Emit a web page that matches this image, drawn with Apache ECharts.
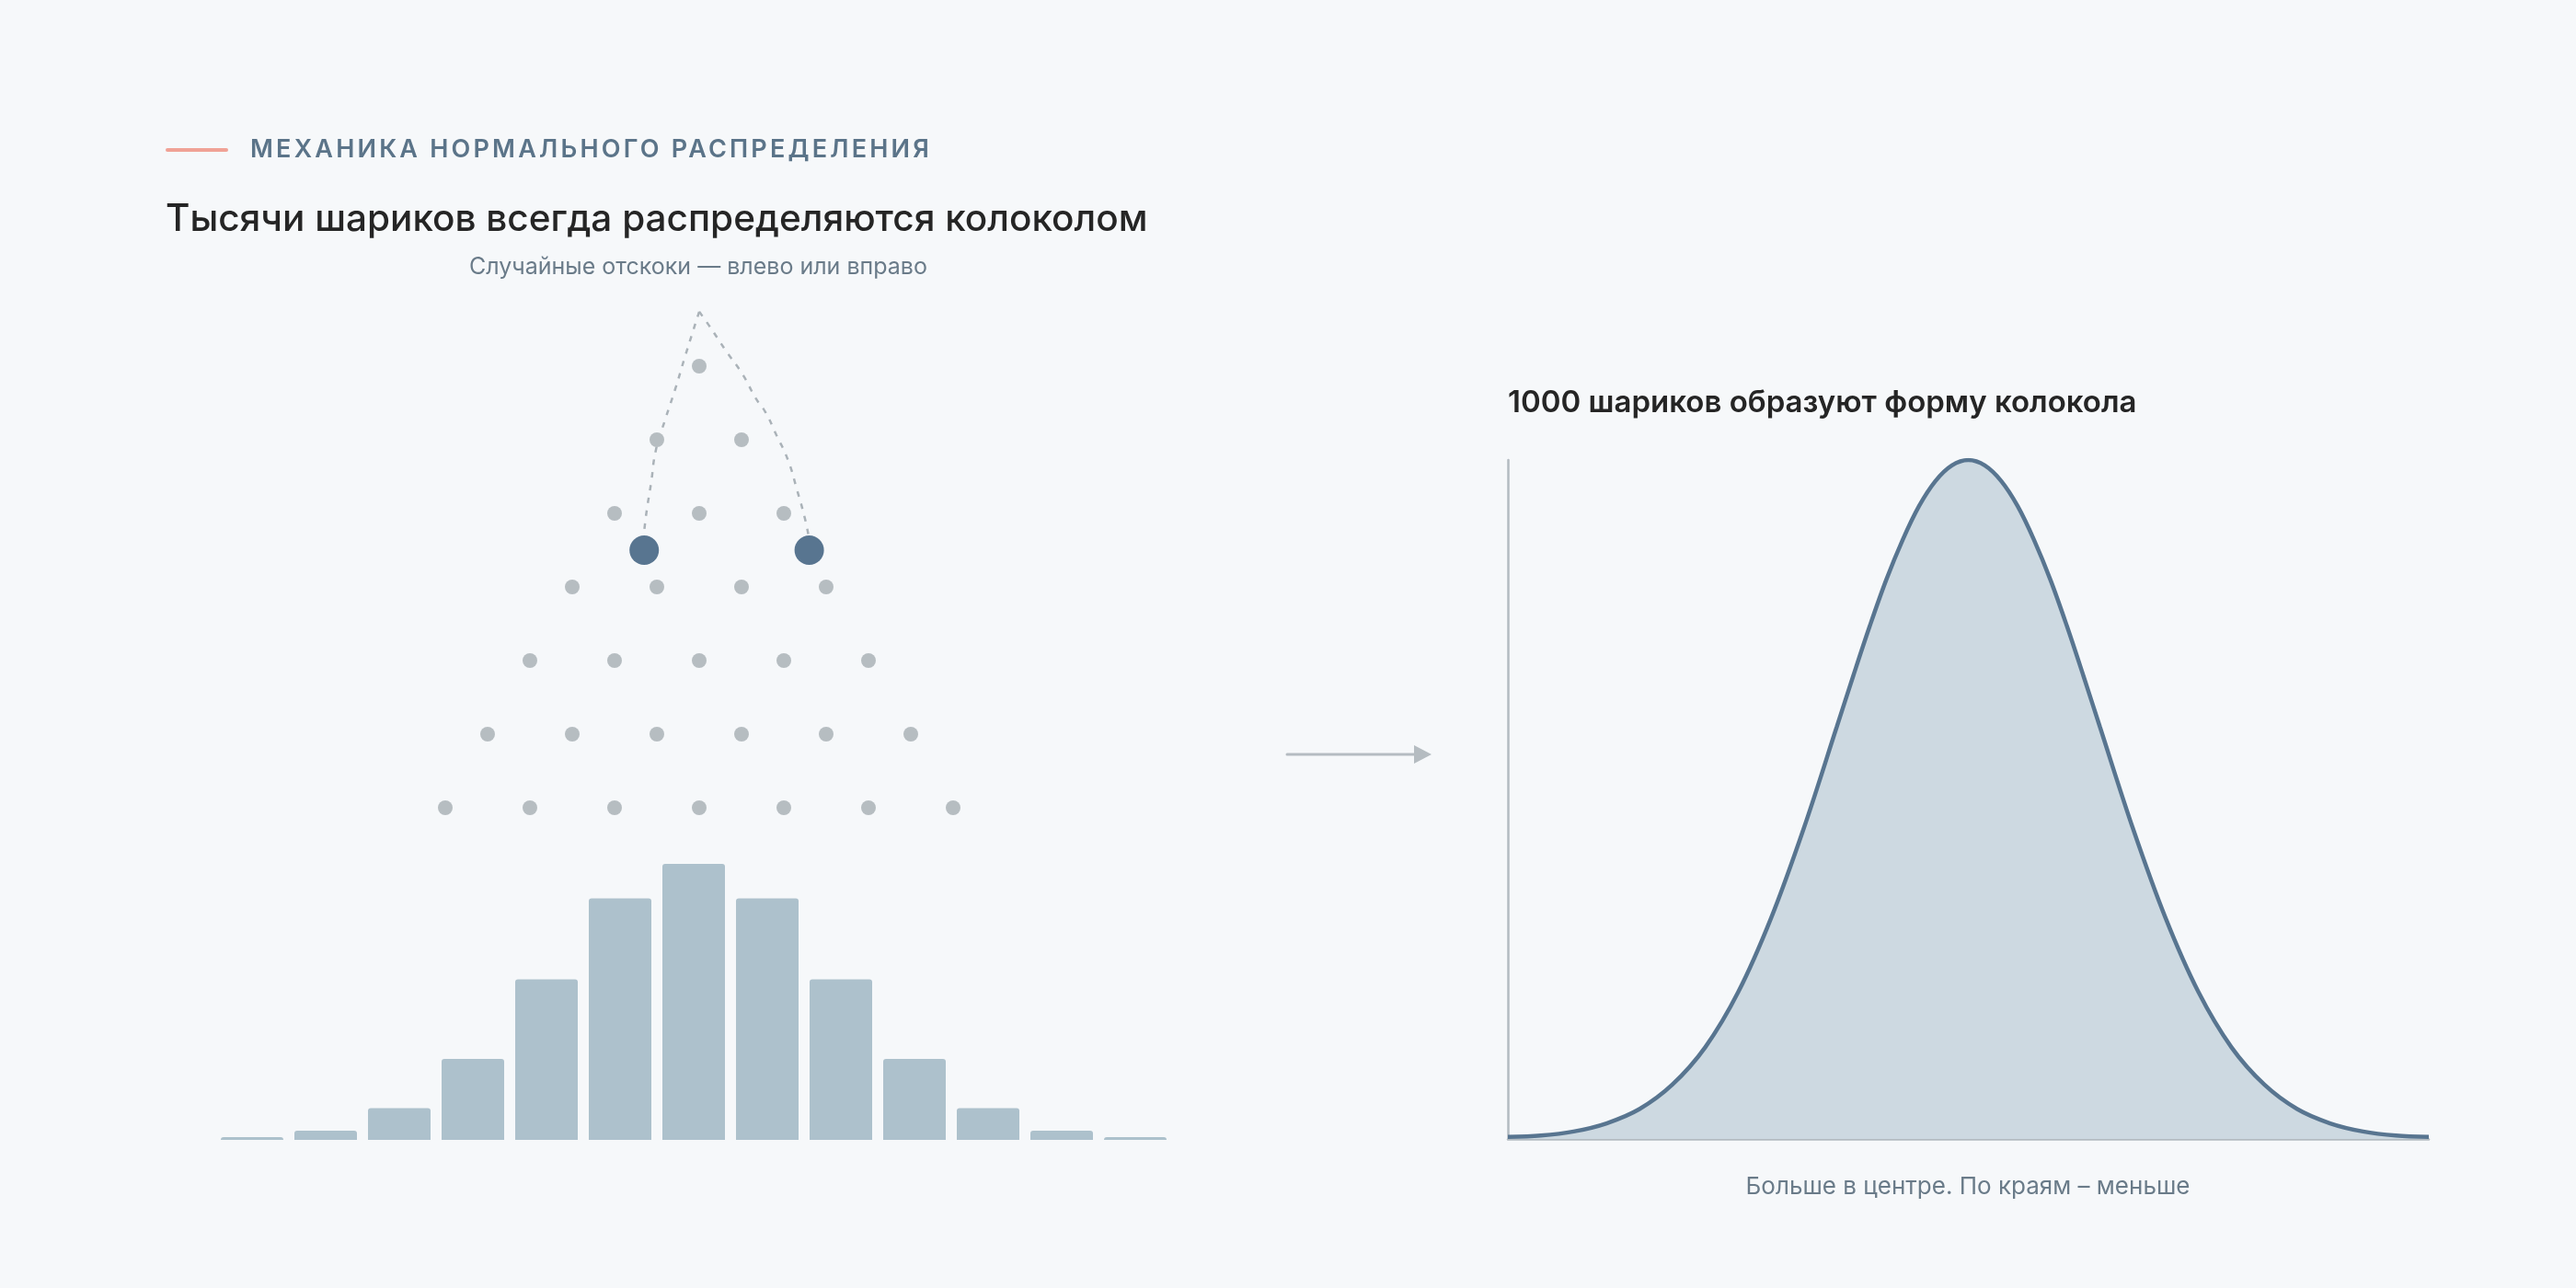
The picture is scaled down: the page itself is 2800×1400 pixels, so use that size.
<!DOCTYPE html>
<html>
<head>
<meta charset="utf-8">
<style>
html,body{margin:0;padding:0;background:#f6f8fa;}
#chart{width:2800px;height:1400px;}
</style>
<script src="https://cdn.jsdelivr.net/npm/echarts@6/dist/echarts.min.js"></script>
</head>
<body>
<div id="chart"></div>
<script>
// ---- text ----
const kickerText = 'МЕХАНИКА НОРМАЛЬНОГО РАСПРЕДЕЛЕНИЯ';
const titleText = 'Тысячи шариков всегда распределяются колоколом';
const subtitleText = 'Случайные отскоки — влево или вправо';
const rightTitleText = '1000 шариков образуют форму колокола';
const captionText = 'Больше в центре. По краям – меньше';

// ---- Galton board pegs (horizontal offset per row) ----
const pegRows = [
  [0],
  [-0.5, 0.5],
  [-1, 0, 1],
  [-1.5, -0.5, 0.5, 1.5],
  [-2, -1, 0, 1, 2],
  [-2.5, -1.5, -0.5, 0.5, 1.5, 2.5],
  [-3, -2, -1, 0, 1, 2, 3]
];
const balls = [[-0.65, 3.5], [1.3, 3.5]];
const leftPath = [[0, 0.26], [-0.17, 0.88], [-0.28, 1.30], [-0.40, 1.72], [-0.51, 2.13], [-0.57, 2.60], [-0.62, 2.96], [-0.65, 3.24]];
const rightPath = [[0, 0.26], [0.115, 0.445], [0.315, 0.79], [0.515, 1.116], [0.67, 1.44], [0.78, 1.62], [0.914, 1.94], [1.047, 2.27], [1.158, 2.69], [1.247, 3.06], [1.29, 3.29]];

// ---- histogram of bins ----
const binCategories = ['1','2','3','4','5','6','7','8','9','10','11','12','13'];
const binCounts = [1, 7, 24, 61, 121, 182, 208, 182, 121, 61, 24, 7, 1];

// ---- bell curve ----
const bellX = [-3.5,-3.25,-3,-2.75,-2.5,-2.25,-2,-1.75,-1.5,-1.25,-1,-0.875,-0.75,-0.625,-0.5,-0.375,-0.25,-0.125,0,
               0.125,0.25,0.375,0.5,0.625,0.75,0.875,1,1.25,1.5,1.75,2,2.25,2.5,2.75,3,3.25,3.5];
const bellY = [0.003,0.005,0.011,0.023,0.044,0.08,0.135,0.216,0.325,0.458,0.607,0.682,0.755,0.823,0.882,0.932,0.969,0.992,1.0,
               0.992,0.969,0.932,0.882,0.823,0.755,0.682,0.607,0.458,0.325,0.216,0.135,0.08,0.044,0.023,0.011,0.005,0.003];

const FONT = 'Inter, "Noto Sans", sans-serif';
const pegData = [];
pegRows.forEach((row, i) => row.forEach(x => pegData.push([x, i + 1])));
const bellData = bellX.map((x, i) => [x, bellY[i]]);

// letter spacing only for the small-caps kicker line (canvas native letterSpacing)
(function () {
  const proto = CanvasRenderingContext2D.prototype;
  const orig = proto.fillText;
  proto.fillText = function (t, x, y, w) {
    const spaced = (t === kickerText) && ('letterSpacing' in this);
    const f = this.font;
    if ('letterSpacing' in this) {
      this.letterSpacing = spaced ? '3.2px' : '0px';
      this.font = f;
    }
    const r = w === undefined ? orig.call(this, t, x, y) : orig.call(this, t, x, y, w);
    if (spaced) {
      this.letterSpacing = '0px';
      this.font = f;
    }
    return r;
  };
})();

const chart = echarts.init(document.getElementById('chart'), null, {renderer: 'canvas'});

chart.setOption({
  backgroundColor: '#f6f8fa',
  animation: false,
  grid: [
    {left: 392, top: 318, width: 736, height: 640},
    {left: 234, top: 939, width: 1040, height: 300},
    {left: 1639, top: 500, width: 1001, height: 738}
  ],
  xAxis: [
    {type: 'value', gridIndex: 0, min: -4, max: 4, show: false},
    {type: 'category', gridIndex: 1, data: binCategories, show: false},
    {type: 'value', gridIndex: 2, min: -3.5, max: 3.5,
      axisLine: {show: true, lineStyle: {color: '#b3bbc1', width: 2.5}},
      axisTick: {show: false}, axisLabel: {show: false}, splitLine: {show: false}}
  ],
  yAxis: [
    {type: 'value', gridIndex: 0, min: 0, max: 8, inverse: true, show: false},
    {type: 'value', gridIndex: 1, min: 0, max: 208, show: false},
    {type: 'value', gridIndex: 2, min: 0, max: 1,
      axisLine: {show: true, onZero: false, lineStyle: {color: '#b3bbc1', width: 2.5}},
      axisTick: {show: false}, axisLabel: {show: false}, splitLine: {show: false}}
  ],
  series: [
    {type: 'line', xAxisIndex: 0, yAxisIndex: 0, data: leftPath, smooth: 0.5, symbol: 'none',
      lineStyle: {color: '#aab2b8', width: 2.5, type: [6, 8]}, z: 1},
    {type: 'line', xAxisIndex: 0, yAxisIndex: 0, data: rightPath, smooth: 0.5, symbol: 'none',
      lineStyle: {color: '#aab2b8', width: 2.5, type: [6, 8]}, z: 1},
    {type: 'scatter', xAxisIndex: 0, yAxisIndex: 0, data: pegData, symbolSize: 16,
      itemStyle: {color: '#b6bdc1', opacity: 1}, z: 2},
    {type: 'scatter', xAxisIndex: 0, yAxisIndex: 0, data: balls, symbolSize: 32,
      itemStyle: {color: '#587590', opacity: 1}, z: 3},
    {type: 'bar', xAxisIndex: 1, yAxisIndex: 1, data: binCounts, barWidth: 68, barMinHeight: 3,
      itemStyle: {color: '#adc1cc', borderRadius: [3, 3, 0, 0]}},
    {type: 'line', xAxisIndex: 2, yAxisIndex: 2, data: bellData, smooth: 0.35, symbol: 'none',
      lineStyle: {color: '#587590', width: 4.5},
      areaStyle: {color: '#cdd9e1', opacity: 1}, z: 3}
  ],
  graphic: [
    {type: 'line', shape: {x1: 182, y1: 163, x2: 246, y2: 163},
      style: {stroke: '#f0a296', lineWidth: 4, lineCap: 'round'}},
    {type: 'text', style: {text: kickerText, x: 272, y: 163, font: '600 27px ' + FONT,
      fill: '#5b7489', verticalAlign: 'middle', align: 'left'}},
    {type: 'text', style: {text: titleText, x: 180, y: 239, font: '500 40.5px ' + FONT,
      fill: '#252525', verticalAlign: 'middle', align: 'left'}},
    {type: 'text', style: {text: subtitleText, x: 759, y: 290, font: '400 25px ' + FONT,
      fill: '#6a7b89', verticalAlign: 'middle', align: 'center'}},
    {type: 'text', style: {text: rightTitleText, x: 1639, y: 438, font: '600 33px ' + FONT,
      fill: '#252525', verticalAlign: 'middle', align: 'left'}},
    {type: 'text', style: {text: captionText, x: 2139, y: 1290, font: '400 26px ' + FONT,
      fill: '#6a7b89', verticalAlign: 'middle', align: 'center'}},
    {type: 'line', shape: {x1: 1399, y1: 820, x2: 1540, y2: 820},
      style: {stroke: '#b5bcc1', lineWidth: 3, lineCap: 'round'}},
    {type: 'polygon', shape: {points: [[1537, 810], [1556, 820], [1537, 830]]},
      style: {fill: '#b5bcc1'}}
  ]
});
</script>
</body>
</html>
